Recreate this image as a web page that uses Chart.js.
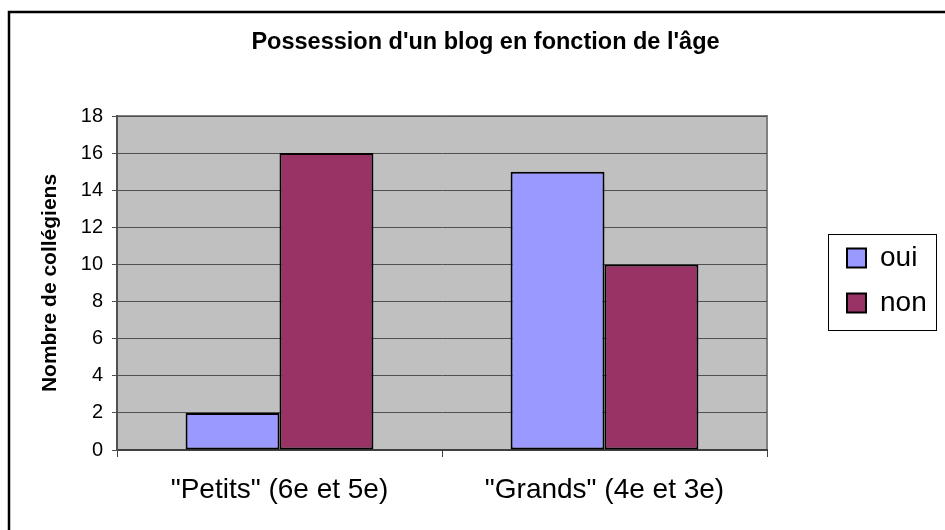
<!DOCTYPE html>
<html>
<head>
<meta charset="utf-8">
<script src="https://cdn.jsdelivr.net/npm/chart.js@4/dist/chart.umd.min.js"></script>
<style>
html,body{margin:0;padding:0;background:#fff;}
canvas{display:block;}
</style>
</head>
<body>
<canvas id="c" width="945" height="530"></canvas>
<script>
// ---- data ----
const chartTitle = "Possession d'un blog en fonction de l'âge";
const yAxisTitle = "Nombre de collégiens";
const categories = ['"Petits" (6e et 5e)', '"Grands" (4e et 3e)'];
const seriesNames = ['oui', 'non'];
const ouiValues = [2, 15];
const nonValues = [16, 10];
const yTickValues = [0, 2, 4, 6, 8, 10, 12, 14, 16, 18];

// ---- styling ----
const FONT = 'Arial, "Liberation Sans", sans-serif';
Chart.defaults.font.family = FONT;
Chart.defaults.color = '#000';

const LEGEND_W = 178;     // width reserved at right (chart area ends at 767)
const LEGEND_SHIFT_X = 63;
const LEGEND_SHIFT_Y = -2.5;

const framePlugin = {
  id: 'framePlugin',
  beforeLayout(chart) {
    const lg = chart.legend;
    if (lg && !lg._wpatched) {
      const f = lg.fit;
      lg.fit = function () { f.call(this); this.width = LEGEND_W; };
      lg._wpatched = true;
    }
  },
  afterLayout(chart) {
    const lg = chart.legend;
    lg.left += LEGEND_SHIFT_X; lg.right += LEGEND_SHIFT_X;
    lg.top += LEGEND_SHIFT_Y; lg.bottom += LEGEND_SHIFT_Y;
  },
  beforeDraw(chart) {
    const {ctx, chartArea: a} = chart;
    ctx.save();
    ctx.fillStyle = '#fff';
    ctx.fillRect(0, 0, chart.width, chart.height);
    ctx.fillStyle = '#C0C0C0';
    ctx.fillRect(a.left, a.top, a.right - a.left, a.bottom - a.top);
    ctx.strokeStyle = '#808080';
    ctx.lineWidth = 2;
    ctx.beginPath();
    ctx.moveTo(a.left, a.top);
    ctx.lineTo(a.right + 1, a.top);
    ctx.moveTo(a.right, a.top);
    ctx.lineTo(a.right, a.bottom);
    ctx.stroke();
    // outer chart frame (only top and left edges are visible)
    ctx.strokeStyle = '#000';
    ctx.lineWidth = 2.5;
    ctx.beginPath();
    ctx.moveTo(9, chart.height);
    ctx.lineTo(9, 12);
    ctx.lineTo(chart.width, 12);
    ctx.stroke();
    ctx.restore();
  },
  afterDraw(chart) {
    const lg = chart.legend;
    const {ctx} = chart;
    const pad = lg.options.labels.padding;
    const x0 = lg.left + pad - 19;
    const yStart = (lg.top + pad + lg.bottom - lg.columnSizes[0].height) / 2;
    const y0 = yStart - 10;
    const y1 = yStart + lg.columnSizes[0].height - pad + 13;
    ctx.save();
    ctx.strokeStyle = '#000';
    ctx.lineWidth = 1;
    ctx.strokeRect(Math.round(x0) + 0.5, Math.round(y0) + 0.5, 108, Math.round(y1 - y0));
    ctx.restore();
  }
};

new Chart(document.getElementById('c'), {
  type: 'bar',
  data: {
    labels: categories,
    datasets: [
      {
        label: seriesNames[0],
        data: ouiValues,
        backgroundColor: '#9999FF',
        borderColor: '#000',
        borderWidth: 2,
        borderSkipped: false
      },
      {
        label: seriesNames[1],
        data: nonValues,
        backgroundColor: '#993366',
        borderColor: '#000',
        borderWidth: 2,
        borderSkipped: false
      }
    ]
  },
  options: {
    responsive: false,
    animation: false,
    devicePixelRatio: 1,
    layout: { padding: { left: 26, right: 0, top: 0, bottom: 0 } },
    datasets: { bar: { barPercentage: 1.0, categoryPercentage: 0.578 } },
    plugins: {
      title: {
        display: true,
        text: chartTitle,
        color: '#000',
        font: { size: 23.5, weight: 'bold', family: FONT },
        padding: { top: 28, bottom: 59.8 }
      },
      legend: {
        display: true,
        position: 'right',
        fullSize: false,
        align: 'center',
        labels: {
          color: '#000',
          boxWidth: 19,
          boxHeight: 19,
          padding: 17,
          font: { size: 28, family: FONT }
        }
      },
      tooltip: { enabled: false }
    },
    scales: {
      x: {
        type: 'category',
        offset: true,
        grid: {
          display: true,
          drawOnChartArea: false,
          drawTicks: true,
          tickLength: 7,
          offset: true,
          color: '#404040',
          lineWidth: 1
        },
        border: { display: true, color: '#404040', width: 2 },
        ticks: {
          color: '#000',
          padding: 16,
          maxRotation: 0,
          autoSkip: false,
          font: { size: 28, family: FONT }
        },
        afterFit(scale) { scale.height = 80; }
      },
      y: {
        min: 0,
        max: 18,
        afterBuildTicks(scale) { scale.ticks = yTickValues.map(v => ({ value: v })); },
        grid: {
          display: true,
          drawOnChartArea: true,
          drawTicks: true,
          tickLength: 5,
          color: '#505050',
          lineWidth: 1
        },
        border: { display: true, color: '#505050', width: 2 },
        ticks: {
          color: '#000',
          padding: 9,
          font: { size: 20, family: FONT }
        },
        title: {
          display: true,
          text: yAxisTitle,
          color: '#000',
          font: { size: 21, weight: 'bold', family: FONT },
          padding: { top: 12, bottom: 0 }
        },
        afterFit(scale) { scale.width = 91; }
      }
    }
  },
  plugins: [framePlugin]
});
</script>
</body>
</html>
